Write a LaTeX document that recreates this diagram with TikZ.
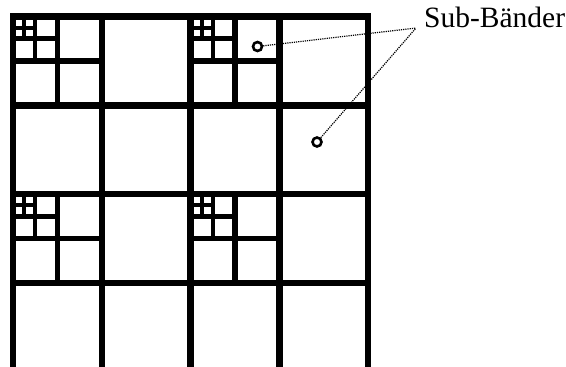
\documentclass[tikz,border=0pt]{standalone}
\usepackage{fontspec}
\setmainfont{Liberation Serif}
\usetikzlibrary{positioning}

\begin{document}
\begin{tikzpicture}[
    x=1pt, y=-1pt,
    band/.style={line width=6.5pt, line cap=rect},
    split/.style={line width=5.5pt},
    splitsub/.style={line width=4.5pt},
    splitsubsub/.style={line width=4pt},
    marker/.style={circle, draw=black, line width=2.6pt, inner sep=0pt, minimum size=9pt},
    leader/.style={densely dotted, line width=1.2pt},
    caption/.style={font=\fontsize{29.5}{35}\selectfont, inner sep=0pt, anchor=base west}
]
\useasboundingbox (0,0) rectangle (566,367);

% main grid of bands
\foreach \i in {0,...,4}
    \draw[band] ({13+88.8*\i},16.5) -- ({13+88.8*\i},375);
\foreach \j in {0,...,3}
    \draw[band] (13,{16.5+88.8*\j}) -- (368.2,{16.5+88.8*\j});

% further splitting of the low-pass bands
\foreach \cx/\cy in {13/16.5, 190.6/16.5, 13/194.1, 190.6/194.1} {
    \draw[split] ({\cx+44.4},\cy) -- ({\cx+44.4},{\cy+88.8});
    \draw[split] (\cx,{\cy+44.4}) -- ({\cx+88.8},{\cy+44.4});
    \draw[splitsub] ({\cx+22.2},\cy) -- ({\cx+22.2},{\cy+44.4});
    \draw[splitsub] (\cx,{\cy+22.2}) -- ({\cx+44.4},{\cy+22.2});
    \draw[splitsubsub] ({\cx+11.1},\cy) -- ({\cx+11.1},{\cy+22.2});
    \draw[splitsubsub] (\cx,{\cy+11.1}) -- ({\cx+22.2},{\cy+11.1});
}

\node[marker] (band1) at (257.5,46.5) {};
\node[marker] (band2) at (317,142) {};
\coordinate (tip) at (416,28);
\node[caption] (label) at (424,27.3) {Sub-Bänder};

\draw[leader] (band1) -- (tip);
\draw[leader] (band2) -- (tip);

\end{tikzpicture}
\end{document}
